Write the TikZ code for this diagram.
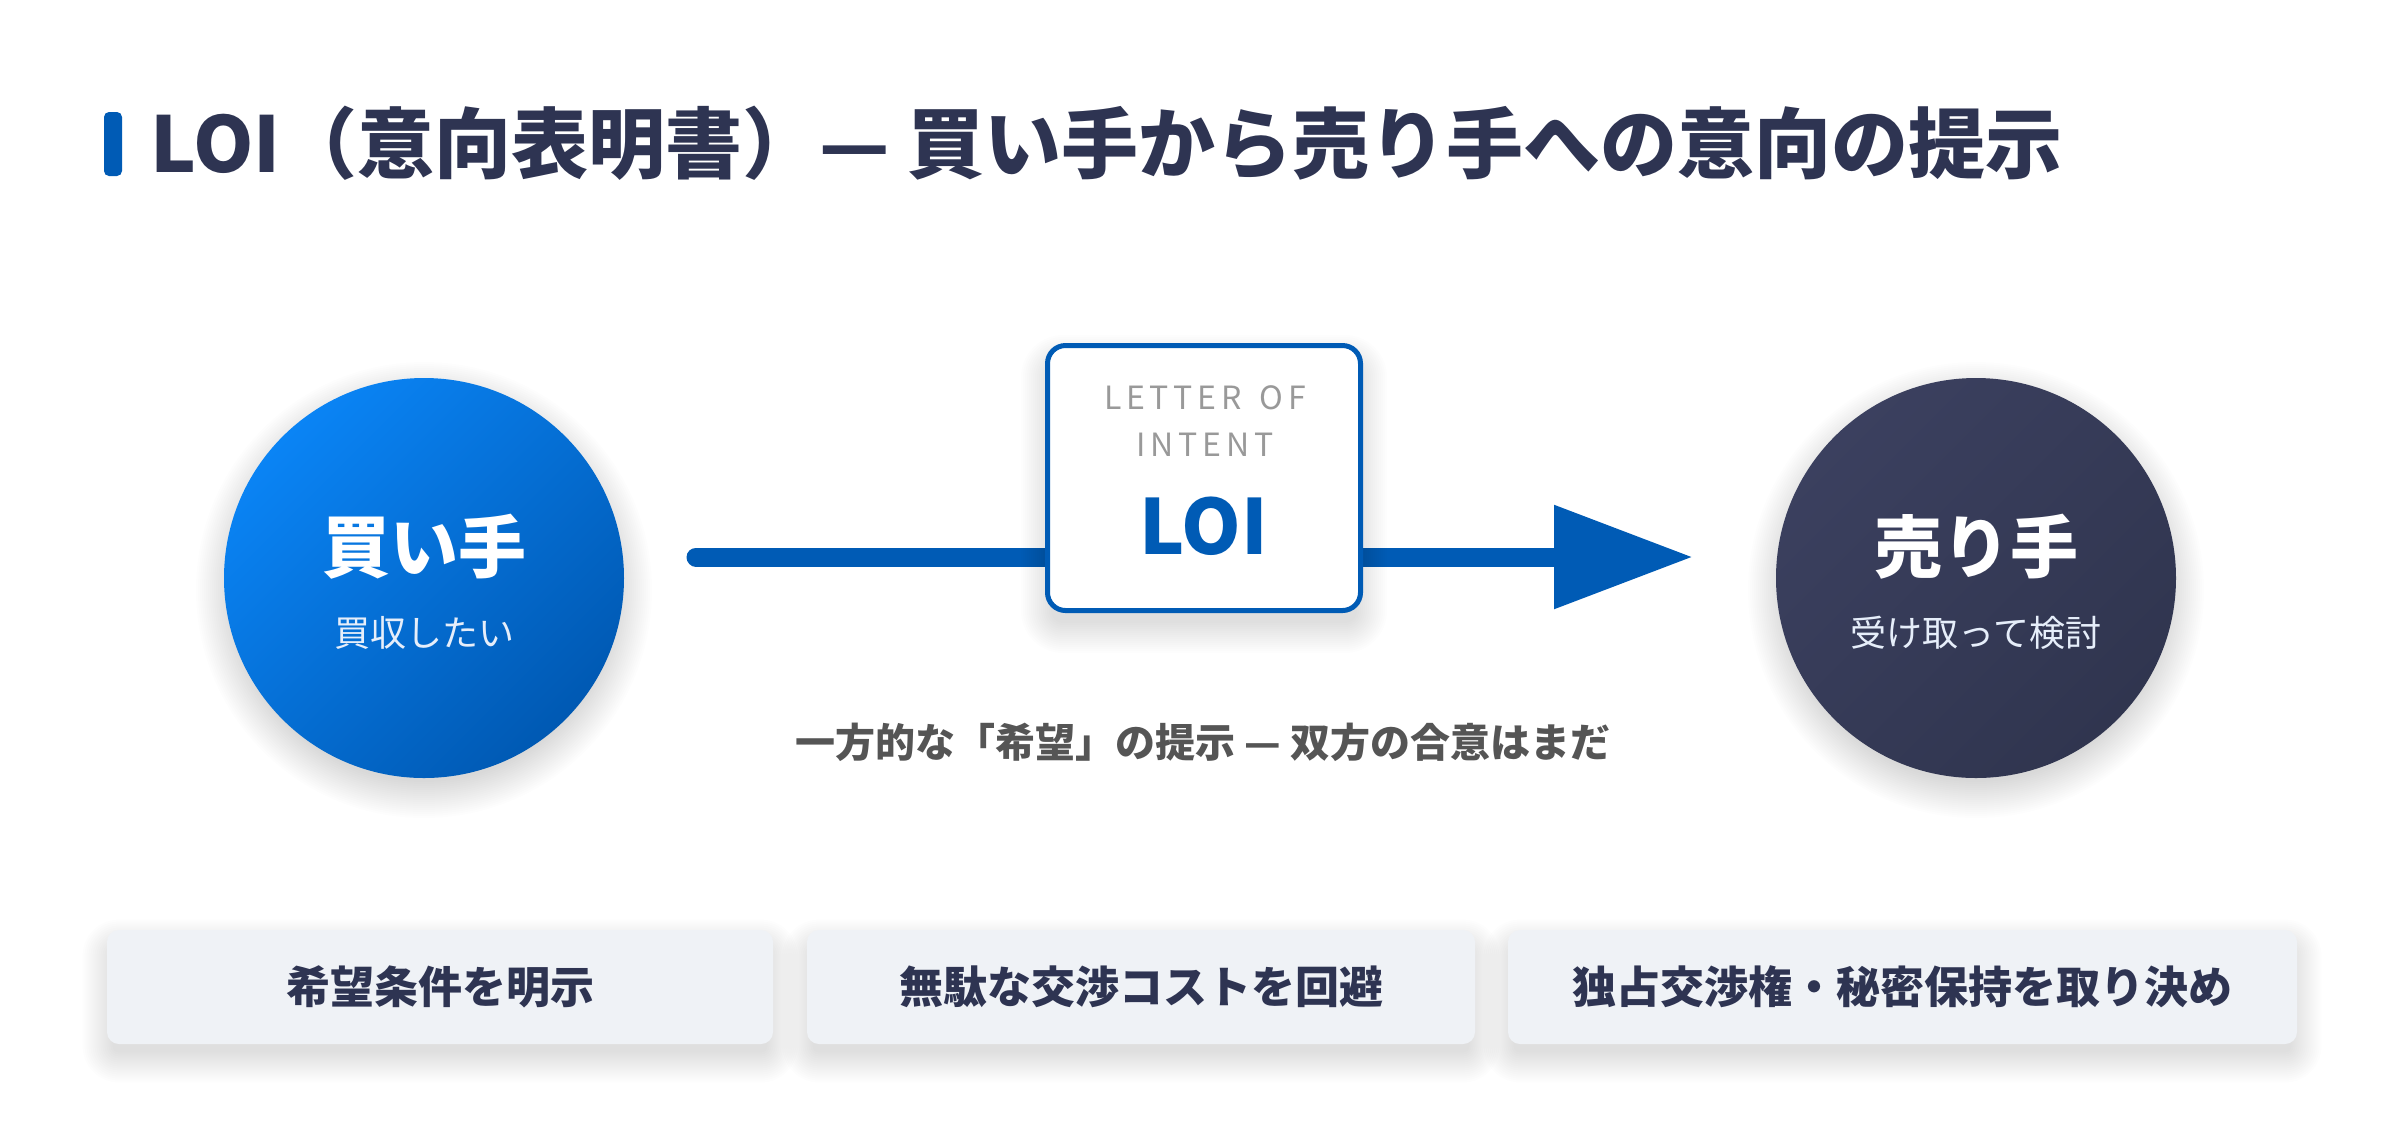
\documentclass[tikz,border=0pt]{standalone}
\usepackage{fontspec}
\setmainfont{Noto Sans CJK JP}
\newfontfamily\spacedfont{Noto Sans CJK JP}[LetterSpace=15]
\usetikzlibrary{arrows.meta}
\definecolor{ink}{HTML}{2E3452}
\definecolor{accent}{HTML}{005BB5}
\definecolor{buyerA}{HTML}{0A84F5}
\definecolor{buyerB}{HTML}{0059B3}
\definecolor{sellerA}{HTML}{3B405F}
\definecolor{sellerB}{HTML}{30354F}
\definecolor{capgray}{HTML}{555555}
\definecolor{lettergray}{HTML}{999999}
\definecolor{cardfill}{HTML}{EFF2F6}
\definecolor{subwhite}{HTML}{E6EEFA}
\newcommand{\circshadow}[1]{%
  \foreach \s in {-4,-3,...,14} {
    \fill[black, opacity=0.008] ([yshift=-6pt]#1.center) circle[radius={100pt+\s*1pt}];
  }}
\newcommand{\rectshadow}[3]{% node, offset (pt), base corner radius
  \foreach \s [evaluate=\s as \r using {max(#3+\s,0.5)}] in {-3,-2,...,12} {
    \fill[black, opacity=0.008, rounded corners=\r pt]
      ([xshift={-1*\s*1pt}, yshift={-#2pt-\s*1pt}]#1.south west) rectangle
      ([xshift={\s*1pt}, yshift={-#2pt+\s*1pt}]#1.north east);
  }}
\begin{document}
\begin{tikzpicture}[x=0.5pt,y=-0.5pt,
  titlestyle/.style={inner sep=0pt, text=ink, font=\fontsize{38.5pt}{44pt}\selectfont\bfseries},
  barstyle/.style={fill=accent, rounded corners=2.5pt, minimum width=9pt, minimum height=32pt, inner sep=0pt},
  party/.style={circle, minimum size=200pt, inner sep=0pt},
  bigw/.style={text=white, font=\fontsize{34pt}{40pt}\selectfont\bfseries, inner sep=0pt},
  smallw/.style={text=subwhite, font=\fontsize{18pt}{22pt}\selectfont, inner sep=0pt},
  loibox/.style={draw=accent, line width=2.5pt, fill=white, rounded corners=9pt,
    minimum width=156.5pt, minimum height=132.5pt, inner sep=0pt},
  lettertext/.style={text=lettergray, font=\fontsize{16pt}{20pt}\spacedfont, inner sep=0pt},
  loitext/.style={text=accent, font=\fontsize{38pt}{44pt}\selectfont\bfseries, inner sep=0pt},
  arrowline/.style={draw=accent, line width=9.5pt, line cap=round,
    -{Triangle[length=69.5pt, width=49.5pt]}},
  caption/.style={text=capgray, font=\fontsize{20pt}{24pt}\selectfont\bfseries, inner sep=0pt},
  card/.style={fill=cardfill, rounded corners=6pt, minimum height=57pt, inner sep=0pt},
  cardtext/.style={text=ink, font=\fontsize{22pt}{26pt}\selectfont\bfseries, inner sep=0pt}
]
\useasboundingbox (0,0) rectangle (2400,1132);
\fill[white] (0,0) rectangle (2400,1132);

% title
\node[barstyle] (bar) at (113,144) {};
\node[titlestyle, anchor=west] (title) at (150,143) {LOI（意向表明書）— 買い手から売り手への意向の提示};

% connector
\coordinate (astart) at (696,557);
\coordinate (atip) at (1693,557);
\draw[arrowline] (astart) -- (atip);

% parties
\coordinate (buyerC) at (424,578);
\coordinate (sellerC) at (1976,578);
\circshadow{buyerC}
\circshadow{sellerC}
\node[party, top color=buyerA, bottom color=buyerB, shading angle=45] (buyer) at (buyerC) {};
\node[bigw] (buyerT) at (424,547) {買い手};
\node[smallw] (buyerS) at (424,633) {買収したい};

\node[party, top color=sellerA, bottom color=sellerB, shading angle=45] (seller) at (sellerC) {};
\node[bigw] (sellerT) at (1976,547) {売り手};
\node[smallw] (sellerS) at (1976,633) {受け取って検討};

% LOI document
\path (1204,478) node[loibox, draw=none, fill=none] (loiS) {};
\rectshadow{loiS}{8}{9}
\node[loibox] (loi) at (1204,478) {};
\node[lettertext] (l1) at (1205,398) {LETTER\hspace{3pt} OF};
\node[lettertext] (l2) at (1205,445) {INTENT};
\node[loitext] (l3) at (1204,526) {LOI};

% caption
\node[caption] (cap) at (1203,742) {一方的な「希望」の提示 — 双方の合意はまだ};

% cards
\path (440,987) node[card, fill=none, minimum width=333pt] (c1s) {};
\path (1141,987) node[card, fill=none, minimum width=334pt] (c2s) {};
\path (1902.5,987) node[card, fill=none, minimum width=394.5pt] (c3s) {};
\rectshadow{c1s}{7}{6}
\rectshadow{c2s}{7}{6}
\rectshadow{c3s}{7}{6}
\node[card, minimum width=333pt] (c1) at (440,987) {};
\node[cardtext] (t1) at (440,987) {希望条件を明示};
\node[card, minimum width=334pt] (c2) at (1141,987) {};
\node[cardtext] (t2) at (1141,987) {無駄な交渉コストを回避};
\node[card, minimum width=394.5pt] (c3) at (1902.5,987) {};
\node[cardtext] (t3) at (1902.5,987) {独占交渉権・秘密保持を取り決め};
\end{tikzpicture}
\end{document}
